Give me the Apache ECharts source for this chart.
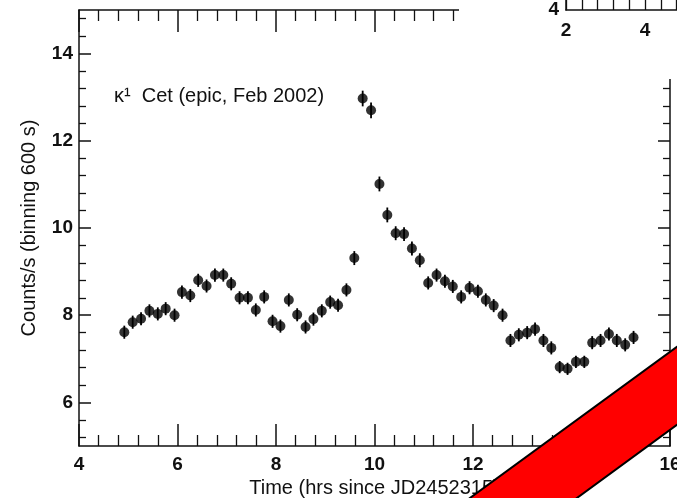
<!DOCTYPE html>
<html><head><meta charset="utf-8">
<script src="https://cdn.jsdelivr.net/npm/echarts@6/dist/echarts.min.js"></script>
<style>html,body{margin:0;padding:0;background:#fff}#c{width:677px;height:498px}</style>
</head><body><div id="c"></div>
<script>
// time (hrs since JD2452315), 600 s bins
const timeHrs = [4.92,5.09,5.26,5.43,5.60,5.76,5.94,6.09,6.26,6.42,
  6.59,6.76,6.93,7.09,7.26,7.43,7.59,7.76,7.93,8.09,
  8.26,8.43,8.60,8.76,8.93,9.10,9.26,9.43,9.59,9.76,
  9.93,10.10,10.26,10.43,10.60,10.76,10.92,11.09,11.26,11.43,
  11.59,11.76,11.93,12.10,12.26,12.42,12.60,12.76,12.93,13.10,
  13.26,13.43,13.59,13.76,13.92,14.09,14.26,14.42,14.59,14.76,
  14.92,15.09,15.26];
const countRate = [7.61,7.84,7.92,8.10,8.03,8.15,8.00,8.53,8.45,8.80,
  8.67,8.92,8.92,8.72,8.40,8.40,8.12,8.42,7.86,7.75,
  8.35,8.01,7.73,7.91,8.10,8.30,8.23,8.58,9.31,12.97,
  12.70,11.01,10.30,9.88,9.86,9.53,9.26,8.74,8.92,8.78,
  8.66,8.42,8.63,8.55,8.35,8.22,8.00,7.42,7.55,7.60,
  7.68,7.42,7.25,6.81,6.77,6.93,6.93,7.37,7.42,7.57,
  7.42,7.32,7.49];
const countErr = [0.15,0.15,0.15,0.15,0.15,0.15,0.15,0.15,0.15,0.15,
  0.15,0.15,0.15,0.15,0.15,0.15,0.15,0.15,0.15,0.15,
  0.15,0.15,0.15,0.15,0.15,0.15,0.15,0.15,0.16,0.18,
  0.18,0.17,0.17,0.16,0.16,0.16,0.16,0.15,0.15,0.15,
  0.15,0.15,0.15,0.15,0.15,0.15,0.15,0.15,0.15,0.15,
  0.15,0.15,0.15,0.14,0.14,0.14,0.14,0.15,0.15,0.15,
  0.15,0.15,0.15];
const yMajorTicks = [6, 8, 10, 12, 14];
const yMinorTicks = [5.2,5.6,6.4,6.8,7.2,7.6,8.4,8.8,9.2,9.6,10.4,10.8,11.2,11.6,12.4,12.8,13.2,13.6,14.4,14.8];
const insetXTicks = [2,2.4,2.8,3.2,3.6,4,4.4,4.8];
const insetXLabels = [2, 4];
const insetYLabels = [4];
const titleText = 'κ¹  Cet (epic, Feb 2002)';
const xName = 'Time (hrs since JD2452315)';
const yName = 'Counts/s (binning 600 s)';

const FONT = 'Liberation Sans, Arial, Helvetica, sans-serif';
const INK = '#111';
const axLine = {show: true, lineStyle: {color: INK, width: 1.5}};
const tickLbl = {color: INK, fontSize: 19, fontWeight: 'bold', fontFamily: FONT};

const pts = timeHrs.map((t, i) => [t, countRate[i]]);
const bars = timeHrs.map((t, i) => [t, countRate[i] - countErr[i], countRate[i] + countErr[i]]);

const chart = echarts.init(document.getElementById('c'), null, {renderer: 'canvas'});
chart.setOption({
  animation: false,
  backgroundColor: '#fff',
  textStyle: {fontFamily: FONT},
  title: {
    text: titleText, left: 109, top: 81,
    textStyle: {fontSize: 20, fontWeight: 'normal', color: INK, fontFamily: FONT}
  },
  grid: [
    {left: 79, right: 7, top: 10, bottom: 52, containLabel: false, outerBoundsMode: 'none'},
    {left: 566, right: 0.4, top: -100, bottom: 488, containLabel: false, outerBoundsMode: 'none'}
  ],
  xAxis: [
    {gridIndex: 0, type: 'value', min: 4, max: 16, interval: 2, position: 'bottom',
     axisLine: axLine, splitLine: {show: false},
     axisTick: {show: true, inside: true, length: 22, lineStyle: {color: INK, width: 1.5}},
     minorTick: {show: true, splitNumber: 5, length: 11, lineStyle: {color: INK, width: 1.3}},
     axisLabel: Object.assign({margin: 9}, tickLbl),
     name: xName, nameLocation: 'middle', nameGap: 29,
     nameTextStyle: {fontSize: 20, color: INK, fontFamily: FONT}},
    {gridIndex: 0, type: 'value', min: 4, max: 16, interval: 2, position: 'top',
     axisLine: axLine, splitLine: {show: false}, axisLabel: {show: false},
     axisTick: {show: true, inside: true, length: 22, lineStyle: {color: INK, width: 1.5}},
     minorTick: {show: true, splitNumber: 5, length: 11, lineStyle: {color: INK, width: 1.3}}},
    {gridIndex: 1, type: 'value', min: 2, max: 4.8, position: 'bottom', z: 60,
     axisLine: axLine, splitLine: {show: false},
     axisTick: {show: true, inside: true, length: 30, customValues: insetXTicks, lineStyle: {color: INK, width: 1.3}},
     axisLabel: Object.assign({margin: 11, customValues: insetXLabels}, tickLbl)}
  ],
  yAxis: [
    {gridIndex: 0, type: 'value', min: 5, max: 15, position: 'left',
     axisLine: axLine, splitLine: {show: false},
     axisTick: {show: true, inside: true, length: 12, customValues: yMajorTicks, lineStyle: {color: INK, width: 1.5}},
     axisLabel: Object.assign({margin: 6, customValues: yMajorTicks}, tickLbl),
     name: yName, nameLocation: 'middle', nameGap: 40,
     nameTextStyle: {fontSize: 20, color: INK, fontFamily: FONT}},
    {gridIndex: 0, type: 'value', min: 5, max: 15, position: 'left',
     axisLine: {show: false}, splitLine: {show: false}, axisLabel: {show: false},
     axisTick: {show: true, inside: true, length: 7, customValues: yMinorTicks, lineStyle: {color: INK, width: 1.3}}},
    {gridIndex: 0, type: 'value', min: 5, max: 15, position: 'right',
     axisLine: axLine, splitLine: {show: false}, axisLabel: {show: false},
     axisTick: {show: true, inside: true, length: 12, customValues: yMajorTicks, lineStyle: {color: INK, width: 1.5}}},
    {gridIndex: 0, type: 'value', min: 5, max: 15, position: 'right',
     axisLine: {show: false}, splitLine: {show: false}, axisLabel: {show: false},
     axisTick: {show: true, inside: true, length: 7, customValues: yMinorTicks, lineStyle: {color: INK, width: 1.3}}},
    {gridIndex: 1, type: 'value', min: 4, max: 8, position: 'left', z: 60,
     axisLine: axLine, splitLine: {show: false},
     axisTick: {show: false},
     axisLabel: Object.assign({margin: 7, customValues: insetYLabels, padding: [0, 0, 8, 0]}, tickLbl)}
  ],
  series: [
    {type: 'custom', xAxisIndex: 0, yAxisIndex: 0, z: 3,
     renderItem: function (params, api) {
       const p0 = api.coord([api.value(0), api.value(1)]);
       const p1 = api.coord([api.value(0), api.value(2)]);
       return {type: 'line', shape: {x1: p0[0], y1: p0[1], x2: p1[0], y2: p1[1]},
               style: {stroke: '#000', lineWidth: 1.8}};
     },
     encode: {x: 0, y: [1, 2]},
     data: bars},
    {type: 'scatter', xAxisIndex: 0, yAxisIndex: 0, z: 4,
     symbol: 'circle', symbolSize: 10,
     itemStyle: {color: '#000'},
     data: pts}
  ],
  graphic: [
    {type: 'rect', z: 50, shape: {x: 459, y: -5, width: 230, height: 84}, style: {fill: '#fff'}},
    {type: 'polygon', z: 100,
     shape: {points: [[459, 506], [700, 330], [700, 408], [566, 506]]},
     style: {fill: '#ff0000', stroke: '#000', lineWidth: 2}}
  ]
});
</script>
</body></html>
